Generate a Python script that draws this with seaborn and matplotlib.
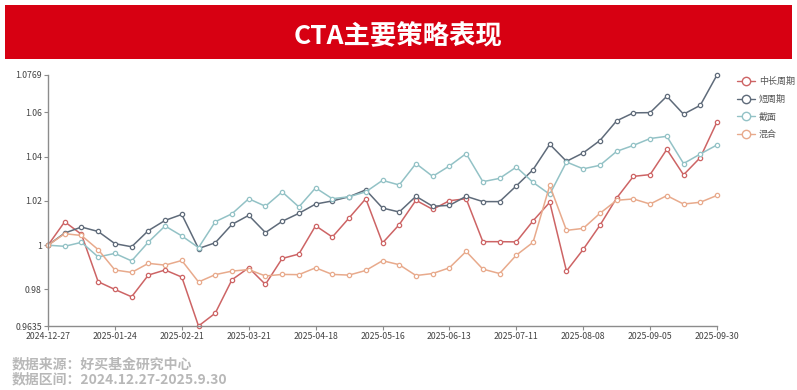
import numpy as np
import pandas as pd
import matplotlib
matplotlib.use("Agg")
import matplotlib.pyplot as plt
from matplotlib.patches import Rectangle
from matplotlib.lines import Line2D
import seaborn as sns

dates = ["2024-12-27", "2025-01-03", "2025-01-10", "2025-01-17", "2025-01-24", "2025-01-31",
         "2025-02-07", "2025-02-14", "2025-02-21", "2025-02-28", "2025-03-07", "2025-03-14",
         "2025-03-21", "2025-03-28", "2025-04-04", "2025-04-11", "2025-04-18", "2025-04-25",
         "2025-05-02", "2025-05-09", "2025-05-16", "2025-05-23", "2025-05-30", "2025-06-06",
         "2025-06-13", "2025-06-20", "2025-06-27", "2025-07-04", "2025-07-11", "2025-07-18",
         "2025-07-25", "2025-08-01", "2025-08-08", "2025-08-15", "2025-08-22", "2025-08-29",
         "2025-09-05", "2025-09-12", "2025-09-19", "2025-09-26", "2025-09-30"]

mid_long = [1.000, 1.0106, 1.0049, 0.9835, 0.9800, 0.9767, 0.9865, 0.9888, 0.9856, 0.9635,
            0.9693, 0.9844, 0.9898, 0.9823, 0.9940, 0.9960, 1.0088, 1.0037, 1.0123, 1.0210,
            1.0010, 1.0093, 1.0203, 1.0162, 1.0201, 1.0210, 1.0016, 1.0016, 1.0015, 1.0110,
            1.0194, 0.9883, 0.9981, 1.0090, 1.0213, 1.0311, 1.0319, 1.0433, 1.0318, 1.0396,
            1.0557]
short = [1.000, 1.0055, 1.0082, 1.0062, 1.0007, 0.9993, 1.0066, 1.0112, 1.0139, 0.9985,
         1.0011, 1.0094, 1.0135, 1.0057, 1.0108, 1.0144, 1.0186, 1.0200, 1.0219, 1.0250,
         1.0168, 1.0150, 1.0221, 1.0176, 1.0180, 1.0221, 1.0197, 1.0197, 1.0268, 1.0341,
         1.0456, 1.0379, 1.0417, 1.0473, 1.0562, 1.0598, 1.0599, 1.0673, 1.0592, 1.0632,
         1.0769]
cross = [1.000, 0.9995, 1.0013, 0.9947, 0.9963, 0.9929, 1.0014, 1.0087, 1.0042, 0.9989,
         1.0106, 1.0142, 1.0210, 1.0176, 1.0241, 1.0173, 1.0259, 1.0210, 1.0219, 1.0241,
         1.0293, 1.0272, 1.0369, 1.0311, 1.0358, 1.0414, 1.0287, 1.0302, 1.0353, 1.0284,
         1.0230, 1.0376, 1.0345, 1.0361, 1.0424, 1.0451, 1.0482, 1.0492, 1.0369, 1.0412,
         1.0453]
mixed = [1.000, 1.0052, 1.0044, 0.9980, 0.9888, 0.9877, 0.9918, 0.9910, 0.9931, 0.9834,
         0.9867, 0.9883, 0.9890, 0.9861, 0.9868, 0.9867, 0.9898, 0.9868, 0.9865, 0.9886,
         0.9930, 0.9912, 0.9863, 0.9872, 0.9898, 0.9972, 0.9892, 0.9872, 0.9955, 1.0013,
         1.0270, 1.0067, 1.0076, 1.0144, 1.0203, 1.0209, 1.0186, 1.0224, 1.0186, 1.0194,
         1.0225]

series_names = ["中长周期", "短周期", "截面", "混合"]
series_values = [mid_long, short, cross, mixed]
y_ticks = [0.9635, 0.98, 1, 1.02, 1.04, 1.06, 1.0769]
y_tick_labels = ["0.9635", "0.98", "1", "1.02", "1.04", "1.06", "1.0769"]
title = "CTA主要策略表现"
footer_lines = ["数据来源：好买基金研究中心", "数据区间：2024.12.27-2025.9.30"]

colors = ["#cd6465", "#5f6b7a", "#93c2c6", "#e8aa8c"]

sns.set_theme(style="white")
plt.rcParams["font.family"] = ["Noto Sans CJK SC", "DejaVu Sans"]
plt.rcParams["axes.unicode_minus"] = False

W, H = 797, 390
fig = plt.figure(figsize=(W / 100, H / 100), dpi=100)
fig.patch.set_facecolor("white")

# red title banner
fig.patches.append(Rectangle((5 / W, 1 - 59 / H), 787 / W, 54 / H,
                             transform=fig.transFigure, facecolor="#d70012",
                             edgecolor="none", zorder=0))
fig.text(398 / W, 1 - 37 / H, title, color="white", fontsize=19, fontweight="bold",
         ha="center", va="center")

ax = fig.add_axes([48 / W, 1 - 326 / H, 669 / W, 251 / H])
for name, vals, c in zip(series_names, series_values, colors):
    d = pd.DataFrame({"idx": range(len(dates)), "value": vals})
    sns.lineplot(data=d, x="idx", y="value", color=c, marker="o", markersize=3.1,
                 markerfacecolor="white", markeredgecolor=c, markeredgewidth=0.9,
                 linewidth=1.1, ax=ax, legend=False)

ax.set_xlim(0, len(dates) - 1)
ax.set_ylim(y_ticks[0], y_ticks[-1])
ax.set_yticks(y_ticks)
ax.set_yticklabels(y_tick_labels)
xt = list(range(0, len(dates), 4))
ax.set_xticks(xt)
ax.set_xticklabels([dates[i] for i in xt])
ax.set_xlabel("")
ax.set_ylabel("")
for s in ["top", "right"]:
    ax.spines[s].set_visible(False)
for s in ["left", "bottom"]:
    ax.spines[s].set_color("#8c8c8c")
    ax.spines[s].set_linewidth(1.0)
ax.tick_params(axis="both", which="both", length=3, width=0.8, color="#8c8c8c",
               labelsize=6.3, labelcolor="#444444", pad=1.5, left=True, bottom=True)
ax.set_facecolor("white")
for l in ax.lines:
    l.set_clip_on(False)

handles = [Line2D([0], [0], color=c, marker="o", markersize=6, markerfacecolor="white",
                  markeredgecolor=c, markeredgewidth=1.0, linewidth=1.0) for c in colors]
leg = fig.legend(handles, series_names, loc="upper left",
                 bbox_to_anchor=(737 / W, 1 - 77 / H), frameon=False,
                 fontsize=6.5, handlelength=2.0, handletextpad=0.4, labelspacing=0.95,
                 borderaxespad=0, borderpad=0)
for t in leg.get_texts():
    t.set_color("#555555")

fig.text(12 / W, 1 - 364 / H, footer_lines[0], color="#b8b8b8", fontsize=10,
         fontweight="bold", ha="left", va="center")
fig.text(12 / W, 1 - 379 / H, footer_lines[1], color="#b8b8b8", fontsize=10,
         fontweight="bold", ha="left", va="center")

fig.savefig("out.png", dpi=100, facecolor="white")
